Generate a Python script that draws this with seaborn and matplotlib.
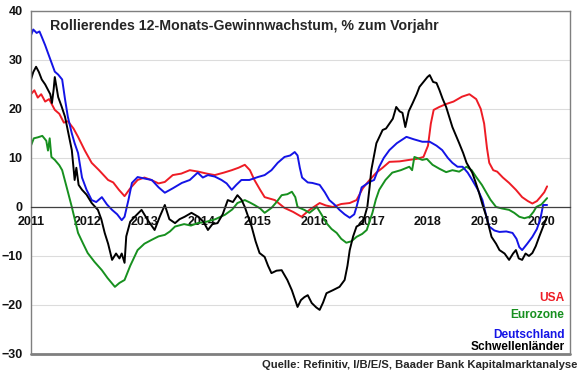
import pandas as pd
import matplotlib
matplotlib.use("Agg")
import matplotlib.pyplot as plt
import seaborn as sns

# Rolling 12-month earnings growth, % yoy
usa_x = [2011.00, 2011.06, 2011.12, 2011.18, 2011.25, 2011.32, 2011.42, 2011.50, 2011.58, 2011.65,
         2011.75, 2011.83, 2011.95, 2012.07, 2012.20, 2012.36, 2012.45, 2012.55, 2012.65, 2012.75,
         2012.88, 2013.00, 2013.12, 2013.25, 2013.36, 2013.50, 2013.65, 2013.80, 2013.95, 2014.10,
         2014.24, 2014.40, 2014.54, 2014.66, 2014.77, 2014.86, 2014.94, 2015.04, 2015.12, 2015.30,
         2015.47, 2015.62, 2015.77, 2015.91, 2016.09, 2016.20, 2016.32, 2016.47, 2016.62, 2016.74,
         2016.85, 2016.97, 2017.09, 2017.20, 2017.32, 2017.50, 2017.67, 2017.80, 2017.92, 2018.00,
         2018.05, 2018.10, 2018.20, 2018.32, 2018.45, 2018.60, 2018.73, 2018.85, 2018.93, 2018.99,
         2019.04, 2019.08, 2019.15, 2019.22, 2019.32, 2019.43, 2019.55, 2019.66, 2019.76, 2019.84,
         2019.92, 2019.98, 2020.05, 2020.10]
usa_y = [23.0, 23.8, 22.3, 23.0, 21.5, 22.0, 19.8, 19.0, 17.2, 17.5,
         16.0, 14.3, 11.5, 9.0, 7.5, 5.5, 5.0, 3.5, 2.2, 3.8,
         5.5, 6.0, 5.5, 4.8, 5.1, 6.5, 6.8, 7.5, 7.2, 6.8,
         6.5, 7.0, 7.5, 8.0, 8.6, 7.5, 5.5, 3.5, 2.0, 1.4,
         -0.2, -1.0, -2.0, -0.6, 0.8, 0.3, 0.0, 0.6, 0.8, 1.4,
         3.8, 5.5, 7.0, 8.0, 9.2, 9.3, 9.6, 9.8, 10.2, 12.5,
         17.0, 19.8, 20.4, 21.0, 21.5, 22.5, 23.0, 22.0, 20.0, 17.0,
         12.0, 9.0, 7.5, 7.2, 6.0, 4.9, 3.5, 2.0, 1.2, 0.7,
         1.2, 2.0, 3.0, 4.2]

ez_x = [2011.00, 2011.05, 2011.12, 2011.20, 2011.27, 2011.30, 2011.33, 2011.36, 2011.42, 2011.50,
        2011.55, 2011.63, 2011.72, 2011.83, 2011.92, 2012.00, 2012.12, 2012.25, 2012.35, 2012.48,
        2012.56, 2012.65, 2012.75, 2012.88, 2013.00, 2013.13, 2013.25, 2013.36, 2013.45, 2013.54,
        2013.70, 2013.82, 2013.94, 2014.10, 2014.25, 2014.42, 2014.55, 2014.64, 2014.77, 2014.86,
        2014.94, 2015.04, 2015.12, 2015.24, 2015.33, 2015.42, 2015.52, 2015.60, 2015.66, 2015.70,
        2015.82, 2015.91, 2016.04, 2016.12, 2016.21, 2016.30, 2016.39, 2016.47, 2016.56, 2016.65,
        2016.74, 2016.84, 2016.92, 2017.02, 2017.08, 2017.14, 2017.25, 2017.37, 2017.52, 2017.67,
        2017.72, 2017.76, 2017.90, 2017.98, 2018.08, 2018.20, 2018.32, 2018.43, 2018.55, 2018.68,
        2018.77, 2018.85, 2018.95, 2019.03, 2019.10, 2019.20, 2019.30, 2019.43, 2019.52, 2019.61,
        2019.70, 2019.79, 2019.86, 2019.91, 2020.00, 2020.10]
ez_y = [12.5, 14.0, 14.2, 14.5, 13.5, 11.5, 14.0, 10.2, 9.6, 8.5,
        7.5, 4.0, 0.0, -5.3, -7.5, -9.4, -11.2, -12.9, -14.5, -16.3,
        -15.5, -14.9, -12.0, -8.8, -7.5, -6.7, -6.0, -5.7, -5.0, -4.0,
        -3.5, -3.8, -3.3, -3.0, -2.5, -1.6, -0.5, 0.8, 1.4, 0.9,
        0.4, -0.3, -1.2, -0.2, 1.0, 2.4, 2.6, 3.1, 2.0, 0.0,
        -0.6, -1.2, 0.0, -1.5, -3.3, -4.5, -5.3, -6.5, -7.3, -7.0,
        -6.1, -5.5, -4.7, -1.2, 1.5, 3.5, 5.5, 7.0, 7.5, 8.2,
        7.5, 10.2, 9.6, 9.8, 8.6, 7.8, 7.1, 7.5, 7.2, 8.2,
        7.5, 6.1, 4.5, 2.9, 1.5, 0.0, -0.3, -0.6, -1.2, -2.0,
        -2.3, -2.0, -1.0, 0.0, 0.5, 1.8]

de_x = [2011.00, 2011.04, 2011.10, 2011.15, 2011.19, 2011.25, 2011.30, 2011.36, 2011.42, 2011.48,
        2011.55, 2011.60, 2011.65, 2011.72, 2011.77, 2011.83, 2011.90, 2011.98, 2012.07, 2012.15,
        2012.25, 2012.34, 2012.43, 2012.52, 2012.60, 2012.65, 2012.72, 2012.78, 2012.88, 2013.00,
        2013.13, 2013.25, 2013.36, 2013.50, 2013.66, 2013.80, 2013.94, 2014.03, 2014.12, 2014.24,
        2014.36, 2014.45, 2014.54, 2014.62, 2014.71, 2014.85, 2015.00, 2015.12, 2015.24, 2015.35,
        2015.47, 2015.57, 2015.65, 2015.70, 2015.74, 2015.78, 2015.88, 2015.96, 2016.09, 2016.18,
        2016.26, 2016.35, 2016.44, 2016.53, 2016.62, 2016.70, 2016.74, 2016.83, 2016.97, 2017.05,
        2017.14, 2017.22, 2017.32, 2017.45, 2017.62, 2017.75, 2017.90, 2018.03, 2018.15, 2018.25,
        2018.35, 2018.43, 2018.52, 2018.61, 2018.70, 2018.78, 2018.88, 2018.96, 2019.03, 2019.08,
        2019.17, 2019.26, 2019.38, 2019.49, 2019.56, 2019.61, 2019.66, 2019.75, 2019.84, 2019.92,
        2019.98, 2020.03, 2020.10]
de_y = [35.0, 36.2, 35.5, 35.8, 34.7, 33.0, 31.4, 29.5, 27.6, 27.0,
        26.0, 22.0, 18.4, 15.0, 13.0, 11.0, 6.0, 3.5, 1.4, 1.0,
        2.0, 0.5, -0.6, -1.5, -2.7, -2.0, 1.5, 4.9, 6.1, 5.8,
        5.5, 4.0, 2.9, 3.8, 4.9, 5.5, 7.0, 6.0, 6.5, 6.2,
        5.5, 4.8, 3.5, 4.5, 5.5, 5.5, 6.1, 6.5, 7.5, 9.0,
        10.2, 10.5, 11.2, 10.5, 8.0, 6.0, 5.0, 4.9, 4.5, 3.0,
        1.4, 0.5, -0.6, -1.5, -2.2, -1.5, 0.0, 4.0, 5.1, 5.5,
        8.2, 10.0, 11.6, 13.0, 14.3, 13.8, 13.3, 13.3, 12.5, 11.6,
        10.0, 9.0, 8.2, 8.2, 7.0, 5.5, 3.5, 1.4, -2.0, -4.0,
        -4.8, -5.1, -5.0, -5.3, -6.5, -8.2, -8.8, -7.5, -6.1, -4.5,
        -2.5, 0.4, 0.4]

em_x = [2011.00, 2011.04, 2011.09, 2011.14, 2011.19, 2011.25, 2011.30, 2011.34, 2011.37, 2011.40,
        2011.42, 2011.45, 2011.48, 2011.54, 2011.60, 2011.66, 2011.72, 2011.77, 2011.80, 2011.84,
        2011.90, 2011.98, 2012.07, 2012.18, 2012.24, 2012.30, 2012.36, 2012.43, 2012.50, 2012.56,
        2012.60, 2012.65, 2012.68, 2012.75, 2012.83, 2012.95, 2013.06, 2013.18, 2013.27, 2013.36,
        2013.44, 2013.54, 2013.62, 2013.71, 2013.83, 2013.95, 2014.04, 2014.12, 2014.20, 2014.29,
        2014.38, 2014.47, 2014.56, 2014.64, 2014.71, 2014.77, 2014.83, 2014.89, 2014.96, 2015.03,
        2015.12, 2015.18, 2015.24, 2015.33, 2015.42, 2015.52, 2015.60, 2015.70, 2015.76, 2015.82,
        2015.88, 2015.95, 2016.03, 2016.09, 2016.15, 2016.21, 2016.32, 2016.44, 2016.53, 2016.58,
        2016.62, 2016.68, 2016.74, 2016.85, 2016.93, 2016.97, 2017.00, 2017.05, 2017.09, 2017.15,
        2017.20, 2017.26, 2017.32, 2017.38, 2017.44, 2017.50, 2017.55, 2017.60, 2017.66, 2017.73,
        2017.80, 2017.85, 2017.92, 2017.99, 2018.03, 2018.09, 2018.15, 2018.20, 2018.26, 2018.32,
        2018.43, 2018.55, 2018.62, 2018.68, 2018.78, 2018.84, 2018.90, 2018.96, 2019.03, 2019.12,
        2019.20, 2019.26, 2019.35, 2019.43, 2019.50, 2019.55, 2019.60, 2019.66, 2019.72, 2019.78,
        2019.84, 2019.90, 2019.96, 2020.03, 2020.10]
em_y = [26.0, 27.5, 28.6, 27.5, 26.0, 25.0, 23.9, 23.0, 21.2, 24.0,
        26.5, 24.5, 22.4, 20.5, 18.4, 15.0, 11.6, 5.5, 8.0, 4.5,
        3.5, 2.5, 0.8, -0.6, -2.5, -5.3, -7.5, -10.8, -9.5, -10.5,
        -9.5, -11.4, -6.0, -3.0, -2.0, -0.6, -2.7, -4.7, -2.0, 0.4,
        -2.5, -3.3, -2.5, -2.0, -1.2, -2.0, -3.0, -4.7, -3.5, -3.3,
        -1.5, 1.4, 1.0, 2.4, 1.5, 0.0, -2.0, -4.0, -7.0, -9.4,
        -10.2, -12.0, -13.5, -13.0, -12.9, -14.9, -17.0, -20.4, -19.0, -18.4,
        -18.0, -19.6, -20.5, -21.0, -19.5, -17.6, -17.0, -16.3, -14.9, -12.0,
        -8.8, -6.0, -4.0, -3.3, 0.0, 4.0, 7.5, 10.5, 13.0, 14.5,
        15.7, 16.0, 17.0, 18.0, 20.4, 19.5, 19.2, 16.3, 19.5, 21.2,
        23.0, 24.5, 25.5, 26.5, 26.9, 25.5, 25.3, 23.9, 22.0, 20.4,
        16.3, 13.0, 11.0, 9.0, 7.0, 5.0, 2.9, 0.5, -2.0, -6.1,
        -7.5, -8.8, -9.5, -10.8, -9.5, -8.8, -10.5, -10.8, -9.5, -10.0,
        -9.4, -8.0, -6.1, -4.0, -2.0]

series_names = ["USA", "Eurozone", "Deutschland", "Schwellenländer"]
series_colors = ["#ee1c25", "#17901f", "#1414e6", "#000000"]
years = list(range(2011, 2021))
title = "Rollierendes 12-Monats-Gewinnwachstum, % zum Vorjahr"
source = "Quelle: Refinitiv, I/B/E/S, Baader Bank Kapitalmarktanalyse"


def build_frame():
    parts = []
    for name, xs, ys in zip(series_names,
                            [usa_x, ez_x, de_x, em_x],
                            [usa_y, ez_y, de_y, em_y]):
        parts.append(pd.DataFrame({"year": xs, "value": ys, "series": name}))
    return pd.concat(parts, ignore_index=True)


def main():
    sns.set_style("white")
    plt.rcParams["font.family"] = ["Liberation Sans", "DejaVu Sans"]

    df = build_frame()
    palette = dict(zip(series_names, series_colors))

    fig = plt.figure(figsize=(5.8, 3.75), dpi=100)
    ax = fig.add_axes([0.0534, 0.056, 0.929, 0.915])

    ax.yaxis.grid(True, color="#dcdcdc", lw=0.8)
    ax.set_axisbelow(True)

    sns.lineplot(data=df, x="year", y="value", hue="series", palette=palette,
                 hue_order=series_names, estimator=None, sort=False,
                 lw=1.4, legend=False, ax=ax)

    ax.set_xlim(2011, 2020.5)
    ax.set_ylim(-30, 40)
    ax.set_yticks(range(-30, 41, 10))
    ax.set_xticks(years)
    ax.set_xticklabels([str(y) for y in years])
    ax.set_xlabel("")
    ax.set_ylabel("")

    # x axis sits on the zero line, the box is drawn around the plot
    ax.spines["bottom"].set_position(("data", 0))
    ax.spines["bottom"].set_color("#404040")
    ax.spines["bottom"].set_linewidth(0.9)
    for side in ["left", "top", "right"]:
        ax.spines[side].set_color("#7f7f7f")
        ax.spines[side].set_linewidth(1.0)
    ax.axhline(-30, color="#7f7f7f", lw=2.0, clip_on=False)

    ax.tick_params(axis="x", length=3, width=0.8, color="#404040", pad=3.5,
                   labelsize=9)
    ax.tick_params(axis="y", length=0, pad=6, labelsize=9)
    for lab in ax.get_xticklabels() + ax.get_yticklabels():
        lab.set_fontweight("bold")
        lab.set_color("#111111")

    ax.text(0.035, 0.975, title, transform=ax.transAxes, ha="left", va="top",
            fontsize=10.2, fontweight="bold")

    # coloured series names bottom right
    label_pos = [0.163, 0.113, 0.056, 0.021]
    for name, col, yy in zip(series_names, series_colors, label_pos):
        ax.text(0.99, yy, name, transform=ax.transAxes, ha="right",
                va="center", fontsize=8.6, fontweight="bold", color=col)

    fig.text(0.995, 0.027, source, ha="right", va="center", fontsize=8.1,
             fontweight="bold")

    fig.savefig("out.png", dpi=100)
    plt.close(fig)


if __name__ == "__main__":
    main()
